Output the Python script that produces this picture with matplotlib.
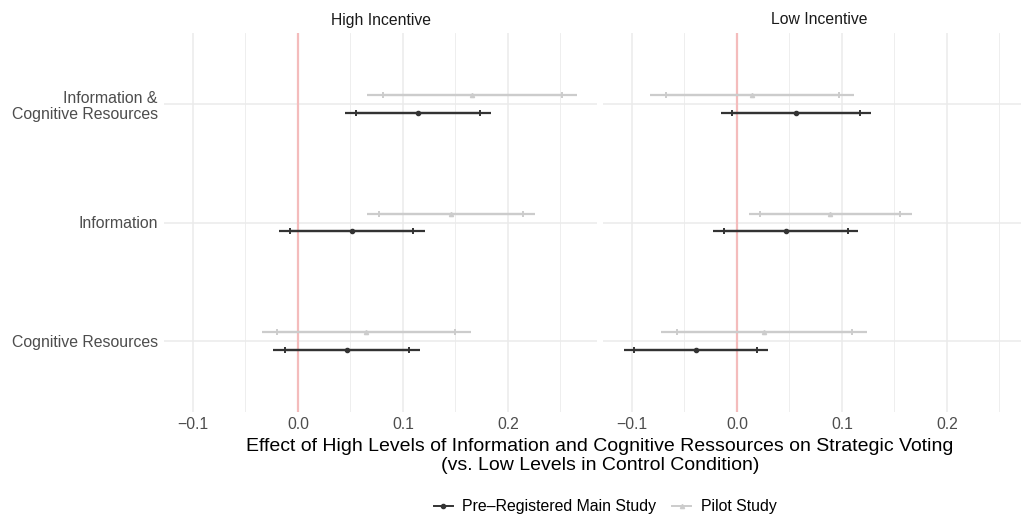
import numpy as np
import matplotlib
matplotlib.use("Agg")
import matplotlib.pyplot as plt
from matplotlib.lines import Line2D

plt.rcParams["font.family"] = ["Liberation Sans", "DejaVu Sans"]

# ── Data ──
panels = ["High Incentive", "Low Incentive"]
categories = ["Cognitive Resources", "Information", "Information &\nCognitive Resources"]

# main study: estimate, inner CI (ticks), outer CI (line)
main_est = {"High Incentive": [0.047, 0.051, 0.114], "Low Incentive": [-0.039, 0.047, 0.056]}
main_lo_in = {"High Incentive": [-0.012, -0.008, 0.055], "Low Incentive": [-0.098, -0.012, -0.005]}
main_hi_in = {"High Incentive": [0.106, 0.110, 0.173], "Low Incentive": [0.019, 0.106, 0.117]}
main_lo_out = {"High Incentive": [-0.024, -0.018, 0.045], "Low Incentive": [-0.108, -0.023, -0.015]}
main_hi_out = {"High Incentive": [0.116, 0.121, 0.184], "Low Incentive": [0.030, 0.115, 0.128]}

# pilot study
pilot_est = {"High Incentive": [0.065, 0.146, 0.166], "Low Incentive": [0.026, 0.089, 0.014]}
pilot_lo_in = {"High Incentive": [-0.020, 0.077, 0.081], "Low Incentive": [-0.057, 0.022, -0.068]}
pilot_hi_in = {"High Incentive": [0.150, 0.214, 0.251], "Low Incentive": [0.110, 0.155, 0.097]}
pilot_lo_out = {"High Incentive": [-0.034, 0.066, 0.066], "Low Incentive": [-0.072, 0.011, -0.083]}
pilot_hi_out = {"High Incentive": [0.165, 0.226, 0.266], "Low Incentive": [0.124, 0.167, 0.111]}

MAIN_COL = "#333333"
PILOT_COL = "#cccccc"
GRID = "#ebebeb"
DODGE = 0.073

W, H = 1021, 515
fig = plt.figure(figsize=(W / 100, H / 100), dpi=100)

# panel pixel boxes (right one runs past the crop, like the reference)
boxes = [(164, 597), (603, 1036)]
top, bottom = 33, 412

ypos = np.arange(1, len(categories) + 1)

for i, (panel, (x0, x1)) in enumerate(zip(panels, boxes)):
    ax = fig.add_axes([x0 / W, 1 - bottom / H, (x1 - x0) / W, (bottom - top) / H])
    ax.set_xlim(-0.1276, 0.2848)
    ax.set_ylim(0.4, 3.6)
    for s in ax.spines.values():
        s.set_visible(False)

    ax.set_xticks([-0.1, 0.0, 0.1, 0.2])
    ax.set_xticks([-0.05, 0.05, 0.15, 0.25], minor=True)
    ax.set_yticks(ypos)
    ax.grid(True, which="major", color=GRID, linewidth=1.1)
    ax.grid(True, which="minor", axis="x", color=GRID, linewidth=0.6)
    ax.set_axisbelow(True)
    ax.tick_params(which="both", length=0)
    ax.tick_params(axis="x", labelsize=11.3, labelcolor="#4d4d4d", pad=3.5)
    ax.tick_params(axis="y", labelsize=11.4, labelcolor="#4d4d4d", pad=4.5)
    if i == 0:
        ax.set_yticklabels(categories)
        for lab in ax.get_yticklabels():
            lab.set_linespacing(1.12)
            lab.set_multialignment("right")
    else:
        ax.set_yticklabels([])

    ax.axvline(0, color="#f4bcbc", linewidth=1.6, zorder=1)

    # pilot (above), main (below)
    for est, lo_in, hi_in, lo_out, hi_out, col, mk, off in [
        (pilot_est, pilot_lo_in, pilot_hi_in, pilot_lo_out, pilot_hi_out, PILOT_COL, "^", DODGE),
        (main_est, main_lo_in, main_hi_in, main_lo_out, main_hi_out, MAIN_COL, "o", -DODGE),
    ]:
        y = ypos + off
        e = np.array(est[panel])
        ax.hlines(y, lo_out[panel], hi_out[panel], color=col, linewidth=1.6, zorder=3)
        ax.errorbar(e, y, xerr=[e - np.array(lo_in[panel]), np.array(hi_in[panel]) - e],
                    fmt=mk, color=col, markersize=3.0, elinewidth=1.6,
                    capsize=2.3, capthick=1.4, zorder=4)

    ax.text(0.5, 1 + 13 / (bottom - top), panel, transform=ax.transAxes,
            ha="center", va="center", fontsize=11.3, color="#1a1a1a")

fig.text(600 / W, 1 - 456 / H,
         "Effect of High Levels of Information and Cognitive Ressources on Strategic Voting\n"
         "(vs. Low Levels in Control Condition)",
         ha="center", va="center", fontsize=14.0, linespacing=1.2)

handles = [
    Line2D([0], [0], color=MAIN_COL, marker="o", markersize=3.0, linewidth=1.4),
    Line2D([0], [0], color=PILOT_COL, marker="^", markersize=3.0, linewidth=1.4),
]
fig.legend(handles, ["Pre\u2013Registered Main Study", "Pilot Study"],
           loc="center", bbox_to_anchor=(605 / W, 1 - 507 / H), ncol=2, frameon=False,
           fontsize=11.4, handlelength=1.2, handletextpad=0.6, columnspacing=1.0)

fig.savefig("out.png", dpi=100)
